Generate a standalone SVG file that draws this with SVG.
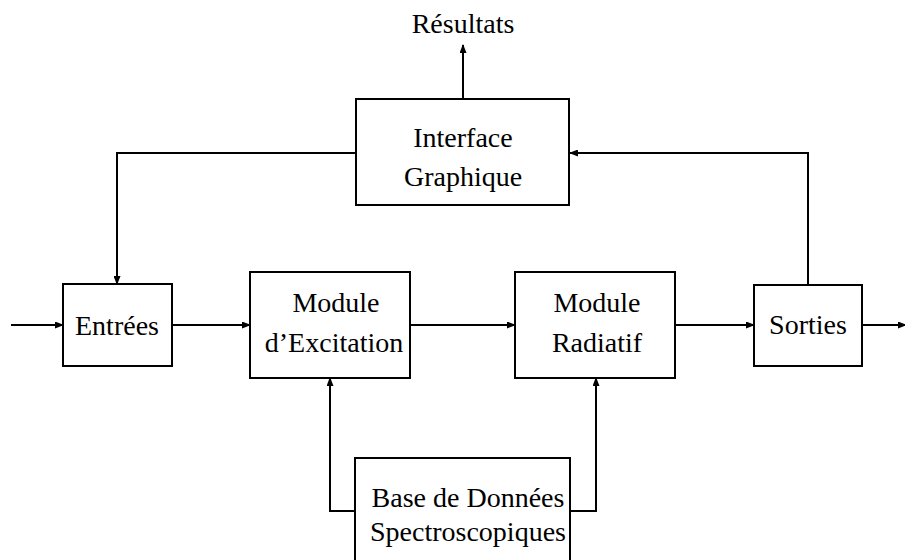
<svg xmlns="http://www.w3.org/2000/svg" width="905" height="560" viewBox="0 0 905 560">
<style>
.box{fill:#fff;stroke:#000;stroke-width:2}
.ln{fill:none;stroke:#000;stroke-width:2;stroke-linejoin:miter}
text{font-family:"Liberation Serif","DejaVu Serif",serif;font-size:28px;text-anchor:middle;fill:#000}
</style>
<defs>
<marker id="ah" markerWidth="9" markerHeight="7" refX="8" refY="3.5" orient="auto" markerUnits="userSpaceOnUse">
<path d="M0,0 L9,3.5 L0,7 Z" fill="#000"/>
</marker>
</defs>
<g id="connectors">
<path class="ln" d="M463,99 V45" marker-end="url(#ah)"/>
<path class="ln" d="M356,153 H117 V284" marker-end="url(#ah)"/>
<path class="ln" d="M808,285 V153 H570" marker-end="url(#ah)"/>
<path class="ln" d="M11,325 H63" marker-end="url(#ah)"/>
<path class="ln" d="M172,325 H250" marker-end="url(#ah)"/>
<path class="ln" d="M410,325 H515" marker-end="url(#ah)"/>
<path class="ln" d="M675,325 H754" marker-end="url(#ah)"/>
<path class="ln" d="M862,325 H906" marker-end="url(#ah)"/>
<path class="ln" d="M355,511 H330 V378" marker-end="url(#ah)"/>
<path class="ln" d="M570,511 H596 V378" marker-end="url(#ah)"/>
</g>
<g id="resultats"><text x="463" y="33">Résultats</text></g>
<g id="interface">
<rect class="box" x="356" y="99" width="213" height="106"/>
<text x="463" y="147">Interface</text>
<text x="463" y="186">Graphique</text>
</g>
<g id="entrees">
<rect class="box" x="63" y="284" width="109" height="82"/>
<text x="117" y="335">Entrées</text>
</g>
<g id="excitation">
<rect class="box" x="250" y="272" width="160" height="106"/>
<text x="336" y="312">Module</text>
<text x="334" y="352">d’Excitation</text>
</g>
<g id="radiatif">
<rect class="box" x="515" y="272" width="160" height="106"/>
<text x="597" y="312">Module</text>
<text x="597" y="352">Radiatif</text>
</g>
<g id="sorties">
<rect class="box" x="754" y="285" width="108" height="81"/>
<text x="808" y="334">Sorties</text>
</g>
<g id="base">
<rect class="box" x="355" y="458" width="215" height="110"/>
<text x="468" y="507">Base de Données</text>
<text x="468" y="541">Spectroscopiques</text>
</g>
</svg>
